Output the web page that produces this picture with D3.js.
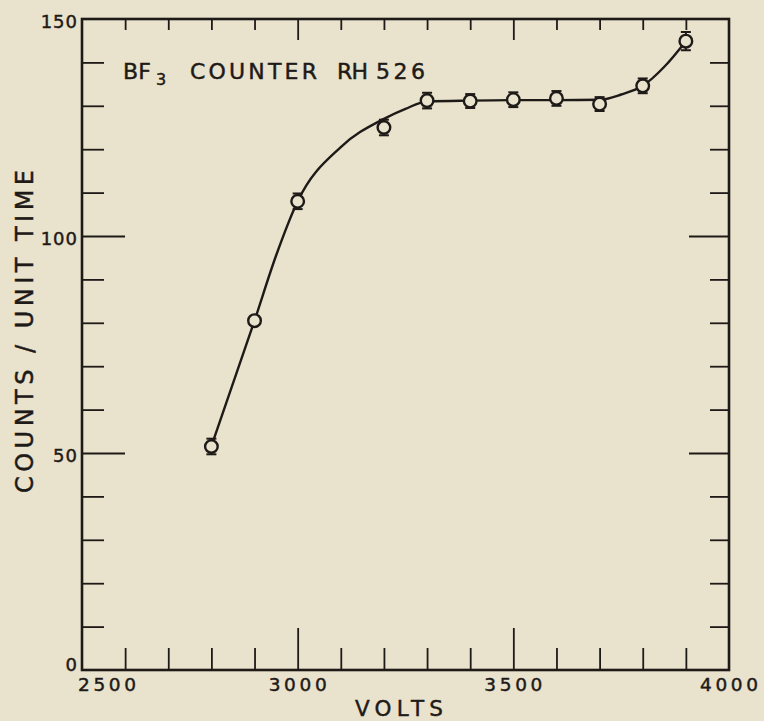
<!DOCTYPE html>
<html>
<head>
<meta charset="utf-8">
<script src="https://cdn.jsdelivr.net/npm/d3@7"></script>
<style>
  html, body { margin: 0; padding: 0; background: #e9e2cc; }
  text { font-family: "DejaVu Sans", sans-serif; fill: #1e1a18; stroke: #1e1a18; stroke-width: 0.45px; }
</style>
</head>
<body>
<div id="chart"></div>
<script>
// measured points (volts vs counts/unit time) with error half-widths
const volts  = [2800, 2900, 3000, 3200, 3300, 3400, 3500, 3600, 3700, 3800, 3900];
const counts = [51.5, 80.5, 108, 125, 131.2, 131.1, 131.4, 131.7, 130.4, 134.6, 144.9];
const errors = [1.8, 0.8, 1.8, 1.8, 1.8, 1.6, 1.7, 1.7, 1.6, 1.7, 2.1];

// hand-drawn smooth curve
const curveVolts  = [2805, 2900, 2950, 3000, 3100, 3200, 3250, 3300, 3400, 3500, 3600, 3700, 3750, 3800, 3850, 3900];
const curveCounts = [53, 80.5, 95.5, 108, 120.5, 127, 129.3, 131, 131.2, 131.3, 131.3, 131.4, 132.6, 134.6, 139, 144.9];

// ticks
const xMinor = [2600, 2700, 2800, 2900, 3100, 3200, 3300, 3400, 3600, 3700, 3800, 3900];
const xMajor = [3000, 3500];
const xLabels = [2500, 3000, 3500, 4000];
const yMinor = [10, 20, 30, 40, 60, 70, 80, 90, 110, 120, 130, 140];
const yMajor = [50, 100];
const yLabels = [0, 50, 100, 150];

const width = 764, height = 721;
const ink = "#1e1a18";

const svg = d3.select("#chart").append("svg")
  .attr("width", width)
  .attr("height", height);

const x = d3.scaleLinear().domain([2500, 4000]).range([82, 729]);
const y = d3.scaleLinear().domain([0, 150]).range([670, 19]);

// ticks via axis generators (no domain path, labels drawn separately)
function ticks(axis, vals, size, tx, ty) {
  const g = svg.append("g")
    .attr("transform", `translate(${tx},${ty})`)
    .call(axis.tickValues(vals).tickSizeInner(size).tickSizeOuter(0).tickFormat(""));
  g.select(".domain").remove();
  g.selectAll(".tick line").attr("stroke", ink).attr("stroke-width", 1.8);
}
ticks(d3.axisBottom(x), xMinor, -22, 0, 670);
ticks(d3.axisBottom(x), xMajor, -42, 0, 670);
ticks(d3.axisTop(x), xMinor, -11, 0, 19);
ticks(d3.axisTop(x), xMajor, -21, 0, 19);
ticks(d3.axisLeft(y), yMinor, -22, 82, 0);
ticks(d3.axisLeft(y), yMajor, -43, 82, 0);
ticks(d3.axisRight(y), yMinor, -19, 729, 0);
ticks(d3.axisRight(y), yMajor, -40, 729, 0);

// frame
svg.append("rect")
  .attr("x", x(2500)).attr("y", y(150))
  .attr("width", x(4000) - x(2500))
  .attr("height", y(0) - y(150))
  .attr("fill", "none")
  .attr("stroke", ink)
  .attr("stroke-width", 2.6);

// tick labels
svg.selectAll(".xl").data(xLabels).enter().append("text")
  .attr("x", d => d === 2500 ? x(d) + 25 : x(d))
  .attr("y", 691)
  .attr("text-anchor", "middle")
  .attr("textLength", 58)
  .attr("lengthAdjust", "spacing")
  .style("font-size", "18.5px")
  .text(d => d);

svg.selectAll(".yl").data(yLabels).enter().append("text")
  .attr("x", 78)
  .attr("y", d => d === 0 ? y(d) + 1 : y(d) + 9)
  .attr("text-anchor", "end")
  .style("font-size", "18px")
  .style("letter-spacing", "1px")
  .text(d => d);

// axis titles
svg.append("text")
  .attr("x", 355).attr("y", 716)
  .attr("textLength", 88)
  .attr("lengthAdjust", "spacing")
  .style("font-size", "21.5px")
  .text("VOLTS");

svg.append("text")
  .attr("transform", "translate(33,493) rotate(-90)")
  .attr("textLength", 323)
  .attr("lengthAdjust", "spacing")
  .style("font-size", "24px")
  .text("COUNTS / UNIT TIME");

// label inside plot
const lab = svg.append("g").style("font-size", "22px");
lab.append("text").attr("x", 123).attr("y", 79).attr("textLength", 28).attr("lengthAdjust", "spacing").text("BF");
lab.append("text").attr("x", 156).attr("y", 85).style("font-size", "16px").text("3");
lab.append("text").attr("x", 190).attr("y", 79).attr("textLength", 127).attr("lengthAdjust", "spacing").text("COUNTER");
lab.append("text").attr("x", 337).attr("y", 79).attr("textLength", 31).attr("lengthAdjust", "spacing").text("RH");
lab.append("text").attr("x", 376).attr("y", 79).attr("textLength", 49).attr("lengthAdjust", "spacing").text("526");

// curve
const line = d3.line()
  .x(d => x(d[0]))
  .y(d => y(d[1]))
  .curve(d3.curveMonotoneX);

svg.append("path")
  .datum(curveVolts.map((v, i) => [v, curveCounts[i]]))
  .attr("d", line)
  .attr("fill", "none")
  .attr("stroke", ink)
  .attr("stroke-width", 2.4);

// points with error bars
const pts = volts.map((v, i) => ({ v, c: counts[i], e: errors[i] }));
const pg = svg.append("g");

pg.selectAll(".eb").data(pts).enter().append("line")
  .attr("x1", d => x(d.v)).attr("x2", d => x(d.v))
  .attr("y1", d => y(d.c + d.e)).attr("y2", d => y(d.c - d.e))
  .attr("stroke", ink).attr("stroke-width", 2);

pg.selectAll("circle").data(pts).enter().append("circle")
  .attr("cx", d => x(d.v))
  .attr("cy", d => y(d.c))
  .attr("r", 6.3)
  .attr("fill", "#e9e2cc")
  .attr("stroke", ink)
  .attr("stroke-width", 2.4);

pg.selectAll(".capT").data(pts.filter(d => d.e > 1)).enter().append("line")
  .attr("x1", d => x(d.v) - 5).attr("x2", d => x(d.v) + 5)
  .attr("y1", d => y(d.c + d.e)).attr("y2", d => y(d.c + d.e))
  .attr("stroke", ink).attr("stroke-width", 2);

pg.selectAll(".capB").data(pts.filter(d => d.e > 1)).enter().append("line")
  .attr("x1", d => x(d.v) - 5).attr("x2", d => x(d.v) + 5)
  .attr("y1", d => y(d.c - d.e)).attr("y2", d => y(d.c - d.e))
  .attr("stroke", ink).attr("stroke-width", 2);
</script>
</body>
</html>
